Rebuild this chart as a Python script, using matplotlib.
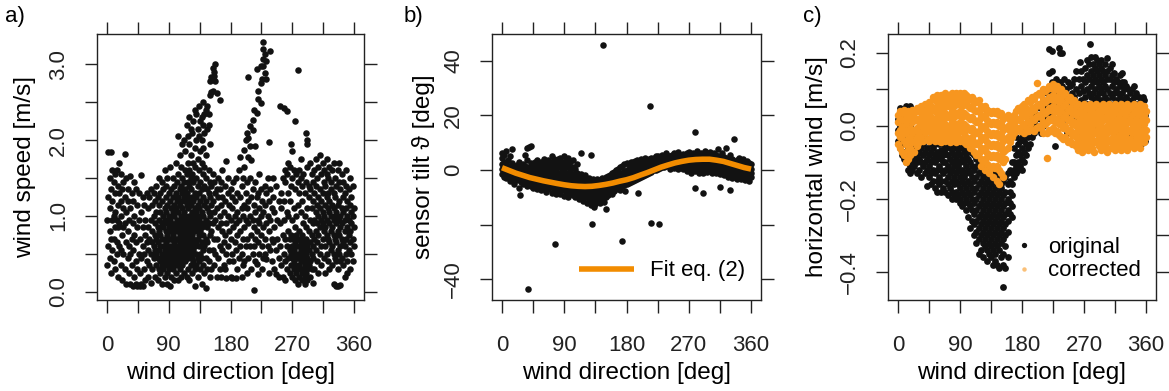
import matplotlib
matplotlib.use('Agg')
import matplotlib.pyplot as plt
from matplotlib.lines import Line2D
import numpy as np

plt.rcParams['font.family'] = ['Liberation Sans', 'DejaVu Sans']
plt.rcParams['font.size'] = 16

# ---- panel a: wind speed [m/s] per wind direction column (deg, [speeds])
speed_n = [
    (0, [0.35, 0.95]), (2, [0.6, 1.25, 1.84]), (4, [0.45, 0.8, 1.1, 1.5]),
    (6, [0.25, 0.7, 1.35, 1.84]), (8, [0.55, 0.95, 1.2, 1.6]), (10, [0.4, 0.7, 1.0, 1.45]),
    (12, [0.3, 0.85, 1.05, 1.3, 1.55]), (14, [0.5, 0.65, 0.95, 1.6]), (16, [0.2, 0.85, 1.15, 1.4]),
    (18, [0.6, 0.9, 1.3, 1.7]), (20, [0.35, 0.55, 1.0, 1.2, 1.55]), (22, [0.15, 0.75, 1.35]),
    (24, [0.5, 0.85, 1.1, 1.45]), (26, [0.3, 0.9, 1.25, 1.82]), (28, [0.1, 0.65, 1.05, 1.5]),
    (30, [0.45, 0.8, 1.2, 1.35]), (32, [0.25, 0.6, 0.95]), (34, [0.1, 0.5, 1.1, 1.53]),
    (36, [0.35, 0.7, 1.3]), (38, [0.08, 0.55, 0.9, 1.2]), (40, [0.2, 0.75, 1.0, 1.45]),
    (42, [0.1, 0.4, 0.65, 1.35]), (44, [0.07, 0.3, 0.85, 1.15]), (46, [0.5, 0.95, 1.3]),
    (48, [0.08, 0.25, 0.7]), (50, [0.1, 0.45, 1.05, 1.54]), (52, [0.07, 0.6, 0.85, 1.25]),
    (54, [0.3, 0.5, 1.15]), (56, [0.15, 0.75, 0.95]), (58, [0.4, 0.65, 1.3]),
    (60, [0.2, 0.55, 0.85, 1.1]), (62, [0.35, 0.7, 1.25]), (64, [0.12, 0.5, 0.95, 1.35]),
    (66, [0.3, 0.65, 0.8, 1.15]), (68, [0.45, 0.6, 1.0, 1.3]), (70, [0.2, 0.55, 0.75, 0.9, 1.2]),
    (72, [0.35, 0.5, 0.7, 1.05, 1.4]), (74, [0.15, 0.45, 0.65, 0.85, 1.25]),
    (76, [0.3, 0.55, 0.8, 0.95, 1.15, 1.5]), (78, [0.25, 0.4, 0.6, 0.75, 1.05, 1.3]),
    (80, [0.1, 0.35, 0.5, 0.7, 0.9, 1.2, 1.45]), (82, [0.3, 0.45, 0.6, 0.85, 1.0, 1.35]),
    (84, [0.2, 0.4, 0.55, 0.7, 0.95, 1.1, 1.6]), (86, [0.35, 0.5, 0.65, 0.8, 1.05, 1.25, 1.4]),
    (88, [0.1, 0.25, 0.45, 0.6, 0.75, 0.9, 1.15, 1.5]), (90, [0.3, 0.4, 0.55, 0.7, 0.85, 1.0, 1.3]),
    (92, [0.08, 0.35, 0.5, 0.6, 0.8, 0.95, 1.2, 1.65]), (94, [0.2, 0.45, 0.55, 0.7, 0.9, 1.1, 1.35]),
    (96, [0.3, 0.4, 0.6, 0.75, 0.85, 1.05, 1.25, 1.5]), (98, [0.15, 0.35, 0.5, 0.65, 0.8, 1.0, 1.15, 1.4]),
]
speed_s = [
    (100, [0.25, 0.45, 0.55, 0.7, 0.9, 1.1, 1.3, 1.7]), (102, [0.35, 0.5, 0.6, 0.8, 0.95, 1.2, 1.45]),
    (104, [0.15, 0.4, 0.55, 0.7, 0.85, 1.05, 1.25, 1.55, 2.05]),
    (106, [0.3, 0.45, 0.65, 0.75, 0.9, 1.15, 1.35, 1.8]),
    (108, [0.2, 0.4, 0.55, 0.7, 0.85, 1.0, 1.2, 1.4, 1.65]),
    (110, [0.35, 0.5, 0.6, 0.8, 0.95, 1.1, 1.3, 1.5, 1.95]),
    (112, [0.25, 0.45, 0.65, 0.75, 0.9, 1.05, 1.25, 1.45, 2.0]),
    (114, [0.4, 0.55, 0.7, 0.85, 1.0, 1.2, 1.35, 1.6, 1.85]),
    (116, [0.2, 0.5, 0.6, 0.8, 0.95, 1.15, 1.3, 1.55, 2.2]),
    (118, [0.3, 0.45, 0.65, 0.75, 0.9, 1.1, 1.25, 1.45, 1.7, 2.05]),
    (120, [0.15, 0.55, 0.7, 0.85, 1.0, 1.2, 1.4, 1.6, 1.95, 2.3]),
    (122, [0.35, 0.5, 0.6, 0.8, 0.95, 1.15, 1.35, 1.5, 1.8, 2.15]),
    (124, [0.25, 0.45, 0.65, 0.75, 0.9, 1.05, 1.25, 1.55, 2.1]),
    (126, [0.4, 0.55, 0.7, 0.85, 1.0, 1.2, 1.45, 1.7, 2.25]),
    (128, [0.08, 0.3, 0.6, 0.8, 0.95, 1.1, 1.3, 1.65, 1.9, 2.4]),
    (130, [0.35, 0.5, 0.65, 0.9, 1.05, 1.25, 1.5, 2.0, 2.35]),
    (132, [0.2, 0.45, 0.7, 0.85, 1.0, 1.15, 1.4, 1.75, 2.15]),
    (134, [0.4, 0.6, 0.75, 0.95, 1.1, 1.3, 1.6, 2.05, 2.45]),
    (136, [0.3, 0.5, 0.8, 0.9, 1.2, 1.45, 1.85, 2.25]),
    (138, [0.1, 0.45, 0.65, 0.85, 1.05, 1.35, 1.7, 2.0, 2.3]),
    (140, [0.35, 0.55, 0.75, 1.0, 1.25, 1.55, 1.9, 2.2, 2.5]),
    (142, [0.25, 0.6, 0.9, 1.15, 1.4, 1.65, 2.1, 2.35]),
    (144, [0.05, 0.45, 0.7, 0.95, 1.2, 1.5, 1.8, 2.4]),
    (146, [0.3, 0.65, 0.85, 1.1, 1.35, 2.15, 2.45]),
    (148, [0.4, 0.55, 0.9, 1.05, 1.3, 1.6, 2.2, 2.35]),
    (150, [0.2, 0.75, 1.0, 1.25, 1.45, 1.95, 2.6, 2.78]),
    (152, [0.3, 0.8, 1.15, 1.4, 2.63, 2.83]), (154, [0.55, 0.9, 1.2, 1.55, 2.65, 2.8, 2.95]),
    (156, [0.35, 0.7, 1.05, 1.45, 2.85, 2.9]), (158, [0.5, 0.95, 1.3, 2.78, 3.0]),
    (160, [0.2, 0.7, 1.1, 1.35, 2.62]), (162, [0.45, 0.85, 1.25, 1.5]),
    (164, [0.3, 0.6, 1.0, 1.35, 2.53]), (166, [0.2, 0.9, 1.15, 1.45]),
    (168, [0.55, 0.8, 1.25, 1.6]), (170, [0.35, 0.65, 1.05]), (172, [0.3, 0.75, 1.2, 1.4]),
    (174, [0.18, 0.5, 0.9, 1.72]), (176, [0.6, 1.0, 1.3, 1.5]), (178, [0.4, 0.8, 1.15]),
    (180, [0.2, 0.7, 0.95, 1.35]), (182, [0.18, 0.5, 1.1, 1.25]), (184, [0.4, 0.85, 1.45]),
    (186, [0.65, 1.0, 1.2]), (188, [0.18, 0.55, 0.9, 1.5]), (190, [0.3, 0.75, 1.05, 1.3]),
    (192, [0.45, 0.95, 1.6]), (194, [0.6, 0.8, 1.25, 1.78]), (196, [0.2, 0.5, 1.1, 1.4]),
    (198, [0.35, 0.7, 1.0, 1.5]),
]
speed_w = [
    (200, [0.4, 0.85, 1.15, 1.65, 1.87]), (202, [0.6, 0.95, 1.3, 2.0]),
    (204, [0.25, 0.7, 1.1, 1.45, 2.1]), (206, [0.45, 0.9, 1.2, 1.78, 2.03, 2.83]),
    (208, [0.6, 1.0, 1.5, 1.92, 2.18]), (210, [0.3, 0.75, 1.25, 1.74]),
    (212, [0.5, 0.95, 1.35, 2.14, 2.27]), (214, [0.02, 0.6, 0.85, 1.15, 2.4]),
    (216, [0.4, 0.7, 1.05, 1.45, 1.92]), (218, [0.36, 0.8, 1.25, 2.36, 2.94]),
    (220, [0.23, 0.65, 0.95, 1.3, 2.54, 2.65]), (222, [0.5, 0.9, 1.1, 1.55]),
    (224, [0.75, 1.0, 1.35, 2.49, 2.76, 2.98]), (226, [0.3, 0.6, 1.2, 2.8]),
    (228, [0.45, 0.85, 1.05, 2.98, 3.07, 3.2, 3.29]), (230, [0.5, 0.7, 1.15, 1.4, 2.89, 3.14]),
    (232, [0.43, 0.9, 1.3, 2.8, 3.05]), (234, [0.6, 1.0, 1.5]), (236, [0.25, 0.8, 1.2, 1.98]),
    (238, [0.55, 0.95, 1.35, 3.18]), (240, [0.4, 0.7, 1.1]), (242, [0.65, 1.25, 1.5]),
    (244, [0.3, 0.85, 1.05]), (246, [0.23, 0.55, 1.4]), (248, [0.7, 0.95]),
    (250, [0.19, 0.45, 1.2]), (252, [0.6, 0.9, 2.45]), (254, [0.35, 1.1, 1.3]),
    (256, [0.2, 0.75, 1.5]), (258, [0.5, 0.95, 1.2, 2.42]), (260, [0.15, 0.4, 0.7, 1.45, 1.6]),
    (262, [0.3, 0.6, 1.05, 1.55, 2.38]), (264, [0.45, 0.8, 1.0, 1.3, 1.7]),
    (266, [0.25, 0.55, 0.7, 1.2, 1.65]), (268, [0.35, 0.5, 0.75, 1.4, 1.95]),
    (270, [0.2, 0.45, 0.6, 0.95, 1.5, 1.85]), (272, [0.3, 0.4, 0.55, 0.7, 1.1, 1.6]),
    (274, [0.15, 0.35, 0.5, 0.65, 0.85, 1.35, 2.25]), (276, [0.25, 0.45, 0.6, 0.75, 1.0, 1.55]),
    (278, [0.1, 0.3, 0.5, 0.7, 1.15, 1.45, 2.92]), (280, [0.2, 0.35, 0.45, 0.6, 0.8, 1.3, 1.6]),
    (282, [0.3, 0.4, 0.55, 0.65, 1.05, 1.5, 1.75]), (284, [0.15, 0.25, 0.45, 0.6, 0.75, 1.2, 1.4]),
    (286, [0.3, 0.4, 0.5, 0.7, 0.9, 1.55]), (288, [0.1, 0.2, 0.35, 0.55, 0.65, 1.0, 1.3]),
    (290, [0.25, 0.4, 0.5, 0.7, 0.85, 1.45, 2.1]), (292, [0.15, 0.3, 0.45, 0.6, 1.1, 1.65, 1.95, 2.0]),
    (294, [0.35, 0.55, 0.8, 1.25, 1.4]), (296, [0.2, 0.4, 0.65, 0.95, 1.35, 1.7]),
    (298, [0.3, 0.5, 0.75, 1.1, 1.55]), (300, [0.12, 0.45, 0.6, 0.9, 1.2, 1.45]),
    (302, [0.3, 0.7, 0.95, 1.3, 1.6]), (304, [0.55, 0.8, 1.05, 1.4, 1.75]),
    (306, [0.4, 0.65, 0.9, 1.15, 1.5]), (308, [0.25, 0.75, 1.0, 1.25, 1.65]),
    (310, [0.5, 0.85, 1.1, 1.35, 1.8]), (312, [0.35, 0.6, 0.95, 1.2, 1.55]),
    (314, [0.7, 0.9, 1.05, 1.3, 1.7]), (316, [0.45, 0.8, 1.0, 1.45, 1.6]),
    (318, [0.25, 0.6, 0.85, 1.15, 1.4]), (320, [0.5, 0.75, 0.95, 1.25, 1.55, 1.75]),
    (322, [0.4, 0.7, 1.1, 1.3, 1.5]), (324, [0.3, 0.65, 0.9, 1.05, 1.2, 1.65]),
    (326, [0.55, 0.8, 1.0, 1.35, 1.45]), (328, [0.35, 0.6, 0.85, 1.15, 1.6]),
    (330, [0.1, 0.5, 0.75, 0.95, 1.1, 1.3, 1.7]), (332, [0.45, 0.7, 1.0, 1.25, 1.5]),
    (334, [0.08, 0.4, 0.65, 0.9, 1.05, 1.4]), (336, [0.08, 0.3, 0.55, 0.8, 1.15, 1.6]),
    (338, [0.5, 0.75, 0.95, 1.2, 1.45, 1.7]), (340, [0.09, 0.4, 0.6, 0.85, 1.0, 1.35]),
    (342, [0.45, 0.7, 0.9, 1.1, 1.55]), (344, [0.35, 0.65, 1.05, 1.25, 1.45]),
    (346, [0.2, 0.6, 0.8, 0.95, 1.3]), (348, [0.5, 0.7, 1.1, 1.4, 1.6]),
    (350, [0.25, 0.4, 0.85, 1.0, 1.2]), (352, [0.55, 0.75, 0.95, 1.35]),
    (354, [0.3, 0.65, 0.8, 1.15, 1.5]), (356, [0.5, 0.9, 1.05, 1.25]),
    (358, [0.4, 0.7, 1.0, 1.4]), (360, [0.6, 0.85, 1.1]),
]

# ---- panel b: sensor tilt [deg]
tilt_east = [
    (0, [-1.5, 0.5, 2.0, 4.5, 6.1]), (3, [-2.5, -0.5, 1.0, 3.0, 5.5]), (6, [-3.0, -1.2, 0.2, 2.2, 7.0]),
    (9, [-2.0, -0.8, 1.5, 3.5]), (12, [-4.0, -1.8, -0.3, 1.0, 5.0]), (15, [-3.2, -1.0, 0.5, 2.5, 7.7]),
    (18, [-5.0, -2.5, -1.2, 0.8]), (21, [-3.8, -2.0, -0.5, 1.8]), (24, [-6.5, -3.0, -1.5, 0.2, 3.0]),
    (26, [-9.2]), (27, [-4.5, -2.7, -1.0, 1.2]), (30, [-5.2, -3.5, -2.0, -0.3, 2.0]),
    (33, [-4.0, -2.4, -0.8, 1.5, 5.5]), (36, [-6.0, -3.8, -2.2, 0.0, 3.5, 7.9]),
    (38, [-43.7]), (39, [-5.0, -3.0, -1.2, 1.0, 8.5]), (42, [-5.8, -4.0, -2.5, -0.5, 2.5, 8.9]),
    (45, [-6.5, -4.5, -2.8, -1.0, 1.5]), (48, [-5.5, -3.8, -2.0, 0.0, 2.8]),
    (51, [-7.0, -4.8, -3.0, -1.5, 1.0, 3.5]), (54, [-6.0, -4.2, -2.5, -0.5, 2.0]),
    (57, [-7.5, -5.0, -3.5, -1.8, 0.5, 3.0]), (60, [-6.5, -4.5, -2.8, -1.0, 1.5, 4.0]),
    (63, [-8.0, -5.5, -3.8, -2.0, 0.0, 2.5]), (66, [-7.0, -5.0, -3.2, -1.5, 1.0, 3.5]),
    (69, [-6.2, -4.5, -2.5, -0.5, 2.0]), (72, [-8.5, -6.0, -4.0, -2.2, 0.5, 3.0, 5.0]),
    (75, [-7.2, -5.2, -3.5, -1.5, 1.5, 4.0]), (77, [-27.1]), (78, [-9.0, -6.5, -4.5, -2.5, 0.0, 2.5]),
    (81, [-7.8, -5.8, -3.8, -1.8, 1.0, 3.8]), (84, [-8.8, -6.8, -5.0, -3.0, -1.0, 2.0, 4.5]),
    (87, [-7.5, -5.5, -3.5, -1.5, 0.5, 3.0]), (90, [-9.5, -7.0, -5.0, -3.0, -0.5, 2.0, 4.9]),
    (93, [-8.0, -6.0, -4.0, -2.0, 1.0, 3.5]), (96, [-9.8, -7.2, -5.5, -3.5, -1.2, 1.8, 4.2]),
    (99, [-8.5, -6.5, -4.5, -2.5, 0.0, 2.8]), (102, [-9.2, -7.5, -5.8, -3.8, -1.5, 1.0, 3.5]),
    (105, [-10.0, -8.0, -6.0, -4.2, -2.0, 0.5]), (108, [-9.0, -7.2, -5.2, -3.0, -1.0, 2.0]),
    (111, [-10.5, -8.5, -6.5, -4.5, -2.5]), (114, [-9.5, -7.8, -5.8, -3.8, -1.5, 6.3]),
    (117, [-11.5, -9.0, -7.0, -5.0, -3.0]), (120, [-10.0, -8.2, -6.2, -4.2, -2.0]),
    (123, [-12.0, -9.5, -7.5, -5.5, -3.5]), (126, [-11.0, -8.8, -6.8, -4.8, -2.8]),
    (129, [-13.0, -10.2, -8.0, -6.0, -4.0, 5.4]), (130, [-19.8]),
    (132, [-11.5, -9.5, -7.2, -5.2, -3.2]), (133, [-13.7]),
    (135, [-12.5, -10.0, -8.0, -6.0, -4.2]), (138, [-11.0, -9.0, -7.0, -5.0, -3.5]),
    (141, [-12.2, -9.8, -7.5, -5.5, -3.8]), (144, [-10.5, -8.5, -6.5, -4.5, -2.8]),
    (146, [45.8]), (147, [-11.8, -9.2, -7.2, -5.2, -3.5]), (150, [-10.0, -8.0, -6.0, -4.0, -2.5]),
    (151, [-14.3]), (153, [-9.2, -7.5, -5.5, -3.8, -2.2]), (156, [-8.5, -6.8, -5.0, -3.2, -1.8]),
    (159, [-9.0, -6.5, -4.5, -3.0, -1.0]), (162, [-7.8, -6.0, -4.2, -2.5, -0.8]),
    (165, [-7.0, -5.5, -3.8, -2.2, 0.0]), (168, [-6.5, -5.0, -3.5, -1.8, 0.5]),
    (171, [-7.2, -4.5, -3.0, -1.5, 1.0]), (173, [-25.9]), (174, [-6.0, -4.2, -2.8, -1.0, 1.5]),
    (177, [-5.5, -3.8, -2.2, -0.5, 2.0]), (178, [-7.9]),
]
tilt_west = [
    (180, [-5.0, -3.5, -2.0, -0.2, 2.5]), (183, [-4.8, -3.0, -1.5, 0.2, 2.2]),
    (186, [-4.5, -2.8, -1.2, 0.5, 2.8]), (189, [-4.0, -2.2, -0.8, 1.0, 3.0]),
    (192, [-3.8, -2.0, -0.5, 1.2, 3.2]), (195, [-3.5, -1.5, 0.0, 1.5, 3.5]), (197, [-8.3]),
    (198, [-3.0, -1.2, 0.2, 1.8]), (201, [-2.5, -0.8, 0.8, 2.2, 4.0]), (204, [-2.2, -0.5, 1.0, 2.5]),
    (207, [-1.8, 0.0, 1.5, 3.0, 4.5]), (210, [-1.5, 0.3, 1.8, 3.2]), (213, [-1.0, 0.8, 2.2, 3.8]),
    (214, [23.4]), (215, [-19.3]), (216, [-0.8, 1.0, 2.5, 4.2]), (219, [-0.2, 1.5, 3.0, 4.5]),
    (222, [0.0, 1.8, 3.2, 5.0]), (225, [0.5, 2.0, 3.5, 5.2]), (227, [-19.8]), (228, [0.8, 2.5, 4.0]),
    (231, [1.0, 2.8, 4.2, 5.5]), (234, [1.2, 3.0, 4.5]), (237, [1.5, 3.2, 4.8, 6.0]),
    (240, [1.8, 3.5, 5.0]), (243, [0.5, 2.0, 3.8, 5.2]), (246, [1.0, 2.5, 4.0, 5.5]),
    (249, [0.8, 2.8, 4.2, 6.2]), (252, [1.2, 3.0, 4.5]), (255, [0.5, 1.8, 3.2, 4.8, 6.5]),
    (258, [1.0, 2.2, 3.5, 5.0]), (261, [0.2, 1.5, 3.0, 4.2, 5.8]), (264, [1.0, 2.5, 3.8, 5.2]),
    (267, [-0.5, 1.2, 2.8, 4.0, 6.0]), (270, [0.5, 2.0, 3.5, 4.8, 6.5]),
    (273, [-1.0, 1.0, 2.5, 4.0, 5.5]), (276, [0.0, 1.5, 3.0, 4.5, 6.0]),
    (279, [-6.7, -0.5, 1.2, 2.8, 4.2, 5.8, 13.7]), (282, [0.2, 2.0, 3.5, 5.0, 6.8]),
    (285, [-1.0, 1.0, 2.5, 4.0, 5.5]), (288, [-0.2, 1.5, 3.0, 4.5, 6.2]),
    (291, [-8.5, -1.2, 0.8, 2.5, 4.0, 5.5]), (294, [0.0, 1.8, 3.2, 4.8, 7.0]),
    (297, [-0.8, 1.2, 2.8, 4.2, 6.0]), (300, [0.2, 2.0, 3.5, 5.0, 6.5]),
    (303, [-1.0, 1.0, 2.5, 4.0, 5.8]), (306, [-0.5, 1.5, 3.0, 4.5, 6.2]),
    (309, [-1.2, 0.8, 2.2, 3.8, 5.5]), (312, [-0.2, 1.5, 3.0, 4.5, 7.5]),
    (315, [-6.3, -1.5, 0.5, 2.0, 3.5, 5.0]), (318, [-0.8, 1.0, 2.5, 4.0, 6.0]),
    (321, [-2.0, 0.0, 1.8, 3.2, 4.8]), (324, [-1.2, 0.8, 2.2, 3.8, 7.9]),
    (327, [-2.5, -0.5, 1.2, 2.8, 4.5]), (330, [-7.3, -1.8, 0.2, 1.8, 3.2, 5.5]),
    (333, [-2.8, -0.8, 1.0, 2.5, 4.0]), (336, [-2.0, 0.0, 1.5, 3.0, 11.2]),
    (339, [-3.2, -1.2, 0.5, 2.0, 3.5]), (342, [-2.5, -0.5, 1.0, 2.5, 4.5]),
    (345, [-3.5, -1.5, 0.0, 1.5, 3.0]), (348, [-3.0, -1.0, 0.5, 2.0, 3.8]),
    (351, [-3.8, -1.8, -0.2, 1.2, 2.8]), (354, [-3.2, -1.2, 0.2, 1.8, 3.2]),
    (357, [-4.0, -2.0, -0.5, 1.0, 2.5]), (360, [-2.5, -1.0, 0.5, 2.0]),
]
fit_dir = [0, 10, 20, 30, 40, 50, 60, 70, 80, 90, 100, 110, 120, 130, 140, 150, 160, 170, 180,
           190, 200, 210, 220, 230, 240, 250, 260, 270, 280, 290, 300, 310, 320, 330, 340, 350, 360]
fit_tilt = [0.8, -0.2, -1.2, -2.0, -2.8, -3.4, -4.0, -4.5, -5.0, -5.45, -5.8, -6.0, -6.1, -6.0,
            -5.7, -5.3, -4.8, -4.15, -3.6, -2.85, -1.9, -1.0, 0.0, 1.0, 1.8, 2.55, 3.1, 3.55,
            3.8, 3.9, 3.9, 3.55, 3.1, 2.35, 1.6, 0.85, 0.3]

# ---- panel c: horizontal wind [m/s], original
orig_east = [
    (0, [0.02, -0.01, -0.04]), (3, [0.05, 0.0, -0.03, -0.06]), (6, [0.03, -0.02, -0.05, -0.08]),
    (9, [0.01, -0.04, -0.07, -0.09]), (12, [0.056, -0.01, -0.05, -0.08, -0.1]),
    (15, [-0.015, -0.03, -0.06, -0.09, -0.12]), (18, [0.054, 0.0, -0.05, -0.08, -0.11, -0.13]),
    (21, [-0.02, -0.04, -0.07, -0.1, -0.12]), (24, [-0.03, -0.06, -0.09, -0.11]),
    (27, [-0.01, -0.05, -0.08, -0.1, -0.13]), (30, [-0.04, -0.07, -0.09, -0.12]),
    (33, [-0.02, -0.06, -0.1, -0.14]), (36, [-0.05, -0.08, -0.11]),
    (39, [0.052, -0.03, -0.07, -0.1, -0.13]), (42, [-0.06, -0.09, -0.12, -0.165]),
    (45, [-0.04, -0.08, -0.11, -0.14]), (48, [-0.05, -0.07, -0.1, -0.13, -0.16]),
    (51, [-0.04, -0.06, -0.09, -0.12, -0.15]), (54, [-0.05, -0.08, -0.1, -0.13, -0.17]),
    (57, [-0.04, -0.07, -0.09, -0.12, -0.15, -0.18]), (60, [-0.05, -0.08, -0.11, -0.14, -0.16]),
    (63, [-0.045, -0.065, -0.09, -0.12, -0.15, -0.18]), (66, [-0.05, -0.08, -0.1, -0.13, -0.17]),
    (69, [-0.06, -0.075, -0.1, -0.12, -0.15, -0.18]), (72, [-0.05, -0.08, -0.11, -0.14, -0.16, -0.19]),
    (75, [-0.06, -0.09, -0.12, -0.13, -0.17]), (78, [-0.055, -0.07, -0.1, -0.12, -0.15, -0.18, -0.2]),
    (81, [-0.05, -0.08, -0.11, -0.14, -0.16, -0.19]),
    (84, [-0.06, -0.09, -0.1, -0.13, -0.15, -0.18, -0.2]),
    (87, [-0.05, -0.075, -0.11, -0.12, -0.16, -0.19]),
    (90, [-0.06, -0.08, -0.1, -0.14, -0.17, -0.2, -0.21]),
    (93, [-0.055, -0.09, -0.12, -0.13, -0.15, -0.18, -0.22]),
    (96, [-0.06, -0.07, -0.1, -0.14, -0.16, -0.19, -0.21]),
    (99, [-0.065, -0.085, -0.11, -0.13, -0.17, -0.2, -0.23]),
    (102, [-0.07, -0.09, -0.12, -0.15, -0.18, -0.21, -0.25]),
    (105, [-0.06, -0.1, -0.13, -0.16, -0.19, -0.22, -0.28]),
    (108, [-0.075, -0.11, -0.14, -0.17, -0.2, -0.23, -0.26]),
    (111, [-0.08, -0.12, -0.15, -0.18, -0.21, -0.24, -0.27, -0.3]),
    (114, [-0.09, -0.11, -0.14, -0.17, -0.2, -0.23, -0.26, -0.29, -0.32]),
    (117, [-0.1, -0.13, -0.16, -0.19, -0.22, -0.25, -0.28, -0.31, -0.35]),
    (120, [-0.11, -0.12, -0.15, -0.18, -0.21, -0.24, -0.27, -0.3, -0.34]),
    (123, [-0.1, -0.14, -0.17, -0.2, -0.23, -0.26, -0.29, -0.32, -0.36]),
    (126, [-0.12, -0.13, -0.16, -0.19, -0.22, -0.25, -0.28, -0.31, -0.33]),
    (129, [0.043, -0.11, -0.15, -0.18, -0.21, -0.24, -0.27, -0.3, -0.34, -0.37]),
    (132, [-0.13, -0.14, -0.17, -0.2, -0.23, -0.26, -0.29, -0.32, -0.35]),
    (135, [-0.12, -0.16, -0.19, -0.22, -0.25, -0.28, -0.31, -0.33, -0.36]),
    (138, [-0.14, -0.15, -0.18, -0.21, -0.24, -0.27, -0.3, -0.34, -0.38]),
    (141, [-0.13, -0.17, -0.2, -0.23, -0.26, -0.29, -0.32, -0.35, -0.37]),
    (144, [-0.15, -0.16, -0.19, -0.22, -0.25, -0.28, -0.31, -0.33, -0.38]),
    (147, [-0.14, -0.18, -0.21, -0.24, -0.27, -0.3, -0.34, -0.39]),
    (150, [-0.16, -0.17, -0.2, -0.23, -0.26, -0.29, -0.32, -0.36]), (152, [-0.44]),
    (153, [-0.15, -0.19, -0.22, -0.25, -0.28, -0.31, -0.35, -0.38]),
    (156, [-0.14, -0.18, -0.21, -0.24, -0.27, -0.3, -0.33, -0.39]),
    (159, [-0.13, -0.16, -0.2, -0.23, -0.26, -0.29, -0.36]),
    (162, [-0.12, -0.15, -0.18, -0.21, -0.24]), (165, [-0.1, -0.13, -0.16, -0.19, -0.22, -0.25]),
    (168, [-0.06, -0.1, -0.12, -0.14]), (171, [-0.03, -0.08, -0.11, -0.13]),
    (174, [-0.05, -0.07, -0.1, -0.12]), (177, [-0.01, -0.04, -0.08, -0.11]),
]
orig_west = [
    (180, [-0.03, -0.06, -0.09, -0.12]), (183, [0.0, -0.04, -0.07, -0.1]),
    (186, [-0.02, -0.05, -0.08]), (189, [0.01, -0.03, -0.06]), (192, [0.02, -0.01, -0.05]),
    (195, [0.03, 0.0, -0.03]), (198, [0.04, 0.01, -0.02]), (201, [0.05, 0.02, -0.01]),
    (204, [0.06, 0.03, 0.0]), (207, [0.05, 0.02, -0.02]), (210, [0.07, 0.03, 0.0]),
    (213, [0.06, 0.04, 0.01]), (216, [0.09, 0.05, 0.02]), (219, [0.21, 0.146, 0.08, 0.03]),
    (222, [0.1, 0.06, 0.02]), (224, [0.205, 0.15, 0.12, 0.08]), (227, [0.11, 0.07, 0.04]),
    (228, [-0.056]), (230, [0.13, 0.09, 0.05]), (233, [0.214, 0.1, 0.06, 0.02]),
    (235, [0.2, 0.12, 0.08]), (238, [0.2, 0.11, 0.07, 0.03]), (241, [0.13, 0.09, 0.05]),
    (244, [0.1, 0.06, 0.02]), (245, [-0.02]), (247, [0.12, 0.08, 0.04]), (250, [0.11, 0.07, 0.03]),
    (253, [0.115, 0.09, 0.05]), (256, [0.13, 0.08, 0.04]), (259, [0.15, 0.1, 0.06, 0.02]),
    (262, [0.13, 0.09, 0.05, -0.03]), (264, [0.174]), (265, [0.15, 0.11, 0.07, 0.03]),
    (268, [0.097, 0.13, 0.06]), (271, [0.16, 0.12, 0.08, 0.04]), (274, [0.14, 0.1, 0.06, 0.18]),
    (277, [0.17, 0.13, 0.09, 0.05]), (279, [0.225]), (280, [0.15, 0.11, 0.08, 0.19]),
    (283, [0.17, 0.14, 0.12, 0.09, 0.06]), (286, [0.16, 0.13, 0.1, 0.07, 0.19, -0.01]),
    (289, [0.18, 0.15, 0.12, 0.08, 0.05]), (292, [0.17, 0.14, 0.11, 0.09, 0.06]),
    (295, [0.18, 0.16, 0.13, 0.1, 0.07]), (298, [0.15, 0.12, 0.09, 0.06, 0.03]),
    (300, [-0.04]), (301, [0.17, 0.14, 0.11, 0.08, 0.05]), (304, [0.187, 0.15, 0.13, 0.1, 0.07]),
    (307, [0.16, 0.13, 0.09, 0.06]), (310, [0.17, 0.14, 0.11, 0.08, 0.04]),
    (313, [0.145, 0.12, 0.09, 0.06]), (316, [0.13, 0.1, 0.07, 0.03]), (318, [-0.02]),
    (319, [0.12, 0.09, 0.06]), (322, [0.14, 0.11, 0.08, 0.05]), (325, [0.145, 0.12, 0.09, 0.06]),
    (328, [0.12, 0.1, 0.07, 0.03]), (331, [0.11, 0.08, 0.05]), (334, [0.1, 0.07, 0.04]),
    (337, [0.09, 0.06, 0.02]), (338, [-0.03]), (340, [0.1, 0.07, 0.04]), (343, [0.11, 0.08, 0.05]),
    (346, [0.09, 0.06, 0.02]), (349, [0.08, 0.05, 0.03]), (352, [0.07, 0.04, 0.0, -0.05]),
    (355, [0.08, 0.05, 0.02]), (357, [0.07, 0.015]), (359, [-0.04, 0.03]),
]
# ---- panel c: horizontal wind [m/s], corrected
corr_east = [
    (0, [0.03, 0.01, -0.02, -0.05]), (3, [0.04, 0.02, -0.01, -0.03, -0.06]),
    (6, [0.035, 0.0, -0.025, -0.07]), (9, [0.045, 0.015, -0.01, -0.04, -0.08]),
    (12, [0.03, 0.005, -0.02, -0.05, -0.1]), (15, [0.04, 0.02, -0.015, -0.035, -0.065, -0.09]),
    (18, [0.025, -0.005, -0.03, -0.06, -0.08]), (21, [0.045, 0.01, -0.02, -0.045]),
    (24, [0.035, 0.015, -0.01, -0.04, -0.07]), (27, [0.05, 0.02, -0.005, -0.03, -0.055]),
    (30, [0.04, 0.01, -0.02, -0.045]), (33, [0.055, 0.025, 0.0, -0.03]),
    (36, [0.045, 0.015, -0.01, -0.04]), (39, [0.06, 0.03, 0.005, -0.02]),
    (42, [0.05, 0.02, -0.01, -0.035]), (45, [0.065, 0.035, 0.01, -0.015, -0.04]),
    (48, [0.055, 0.025, 0.0, -0.03]), (51, [0.08, 0.045, 0.015, -0.01, -0.035]),
    (54, [0.07, 0.04, 0.01, -0.02, -0.04]), (57, [0.085, 0.055, 0.025, 0.0, -0.03]),
    (60, [0.075, 0.045, 0.015, -0.015, -0.04]), (63, [0.085, 0.06, 0.03, 0.0, -0.025, -0.045]),
    (66, [0.075, 0.05, 0.02, -0.01, -0.035]), (69, [0.09, 0.065, 0.035, 0.005, -0.02, -0.04]),
    (72, [0.08, 0.055, 0.025, -0.005, -0.03]), (75, [0.085, 0.06, 0.03, 0.0, -0.025, -0.045]),
    (78, [0.09, 0.07, 0.04, 0.01, -0.015, -0.04]), (81, [0.08, 0.055, 0.025, -0.005, -0.035]),
    (84, [0.09, 0.065, 0.035, 0.005, -0.02, -0.045]), (87, [0.085, 0.06, 0.03, 0.0, -0.03]),
    (90, [0.09, 0.07, 0.04, 0.01, -0.015, -0.04]), (93, [0.08, 0.055, 0.025, -0.005, -0.035]),
    (96, [0.09, 0.065, 0.035, 0.005, -0.02, -0.045]), (99, [0.085, 0.06, 0.03, 0.0, -0.03, -0.05]),
    (102, [0.08, 0.055, 0.025, -0.005, -0.035]), (105, [0.075, 0.05, 0.02, -0.01, -0.04, -0.06]),
    (108, [0.08, 0.055, 0.025, -0.005, -0.03, -0.055]),
    (111, [0.07, 0.045, 0.015, -0.015, -0.045, -0.07]),
    (114, [0.065, 0.04, 0.01, -0.02, -0.05, -0.08]),
    (117, [0.07, 0.045, 0.015, -0.015, -0.045, -0.075]),
    (120, [0.055, 0.03, 0.0, -0.03, -0.06, -0.09, -0.11]),
    (123, [0.05, 0.025, -0.005, -0.035, -0.065, -0.095]),
    (126, [0.055, 0.03, 0.0, -0.03, -0.06, -0.09, -0.12]),
    (129, [0.045, 0.015, -0.015, -0.045, -0.075, -0.105]),
    (132, [0.04, 0.01, -0.02, -0.05, -0.08, -0.11, -0.13]),
    (135, [0.035, 0.005, -0.025, -0.055, -0.085, -0.115]),
    (138, [0.04, 0.01, -0.02, -0.05, -0.08, -0.11, -0.14]),
    (141, [0.035, 0.005, -0.025, -0.055, -0.085, -0.115]),
    (144, [0.04, 0.01, -0.02, -0.05, -0.08, -0.11, -0.15]),
    (147, [0.03, 0.0, -0.03, -0.06, -0.09, -0.12, -0.16]),
    (150, [0.035, 0.005, -0.025, -0.055, -0.085, -0.13]),
    (153, [0.02, -0.01, -0.04, -0.07, -0.1, -0.14]), (156, [0.025, -0.005, -0.035, -0.065, -0.09]),
    (159, [0.03, 0.0, -0.03, -0.06]), (162, [0.015, -0.015, -0.045]), (165, [0.025, 0.0, -0.03]),
    (168, [0.03, 0.005, -0.02]), (171, [0.04, 0.015, -0.01]), (174, [0.05, 0.02, -0.005]),
    (177, [0.045, 0.015, -0.015]),
]
corr_west = [
    (180, [0.055, 0.03, 0.0]), (183, [0.06, 0.035, 0.005, -0.02]), (186, [0.05, 0.025, -0.005]),
    (189, [0.07, 0.04, 0.01, -0.015]), (192, [0.065, 0.035, 0.005]), (195, [0.08, 0.05, 0.02, -0.01]),
    (198, [0.075, 0.045, 0.015, -0.015]), (201, [0.085, 0.055, 0.025, -0.005]), (202, [0.118]),
    (204, [0.09, 0.06, 0.03, 0.0]), (207, [0.085, 0.055, 0.025, -0.005]),
    (210, [0.1, 0.07, 0.04, 0.01, -0.02]), (213, [0.095, 0.065, 0.035, 0.005]),
    (216, [0.1, 0.07, 0.04, 0.01, -0.02, -0.087]), (219, [0.11, 0.08, 0.05, 0.02, -0.01]),
    (222, [0.105, 0.075, 0.045, 0.015, -0.015]), (225, [0.115, 0.085, 0.055, 0.025, -0.005]),
    (228, [0.1, 0.07, 0.04, 0.01, -0.02]), (231, [0.11, 0.08, 0.05, 0.02, -0.015]),
    (234, [0.095, 0.065, 0.035, 0.005, -0.025]), (237, [0.1, 0.07, 0.04, 0.01, -0.03]),
    (240, [0.085, 0.055, 0.025, -0.005, -0.035]), (243, [0.09, 0.06, 0.03, 0.0, -0.03]),
    (246, [0.075, 0.045, 0.015, -0.015, -0.045]), (249, [0.08, 0.05, 0.02, -0.01, -0.04]),
    (252, [0.065, 0.035, 0.005, -0.025, -0.05]), (255, [0.07, 0.04, 0.01, -0.02, -0.05]),
    (258, [0.055, 0.03, 0.0, -0.03, -0.055]), (261, [0.06, 0.035, 0.01, -0.015, -0.04, -0.065]),
    (264, [0.045, 0.02, -0.005, -0.03, -0.055]), (267, [0.055, 0.03, 0.0, -0.025, -0.05, -0.07]),
    (270, [0.06, 0.035, 0.01, -0.02, -0.045]), (273, [0.05, 0.02, -0.005, -0.035, -0.06]),
    (276, [0.055, 0.03, 0.0, -0.025, -0.05, -0.065]), (279, [0.06, 0.04, 0.01, -0.015, -0.04]),
    (282, [0.05, 0.02, -0.01, -0.035, -0.06]), (285, [0.055, 0.03, 0.005, -0.02, -0.045, -0.07]),
    (288, [0.06, 0.035, 0.01, -0.015, -0.04]), (291, [0.045, 0.02, -0.005, -0.03, -0.055]),
    (294, [0.055, 0.03, 0.0, -0.025, -0.05, -0.065]), (297, [0.06, 0.04, 0.015, -0.01, -0.04]),
    (300, [0.05, 0.025, -0.005, -0.03, -0.055]), (303, [0.055, 0.03, 0.0, -0.02, -0.045, -0.07]),
    (306, [0.06, 0.035, 0.01, -0.015, -0.04]), (309, [0.045, 0.02, -0.01, -0.035, -0.06]),
    (312, [0.055, 0.03, 0.005, -0.02, -0.045]), (315, [0.06, 0.035, 0.01, -0.015, -0.045, -0.065]),
    (318, [0.05, 0.02, -0.005, -0.03, -0.055]), (321, [0.055, 0.03, 0.0, -0.025, -0.05]),
    (324, [0.06, 0.035, 0.01, -0.02, -0.045, -0.065]), (327, [0.045, 0.02, -0.005, -0.035, -0.06]),
    (330, [0.055, 0.03, 0.0, -0.025, -0.05]), (333, [0.06, 0.04, 0.01, -0.015, -0.04, -0.065]),
    (336, [0.05, 0.02, -0.01, -0.035, -0.055]), (339, [0.055, 0.03, 0.005, -0.02, -0.045]),
    (342, [0.06, 0.035, 0.01, -0.015, -0.04, -0.06]), (345, [0.045, 0.02, -0.005, -0.03, -0.055]),
    (348, [0.055, 0.03, 0.0, -0.025, -0.05]), (351, [0.06, 0.035, 0.01, -0.02, -0.045, -0.06]),
    (354, [0.05, 0.02, -0.01, -0.035]), (357, [0.055, 0.03, 0.005, -0.02, -0.045]),
    (360, [0.04, 0.015, -0.01, -0.03]),
]

DIR_TICKS = [0, 45, 90, 135, 180, 225, 270, 315, 360]
DIR_LABELS = ['0', '', '90', '', '180', '', '270', '', '360']
BLACK = '#121212'
ORANGE = '#F7961F'
FIT_ORANGE = '#F28C00'
MS = 4.7


def expand(*col_lists):
    x, y = [], []
    for cols in col_lists:
        for d, vals in cols:
            for v in vals:
                x.append(d)
                y.append(v)
    return np.array(x, float), np.array(y, float)


def style(ax, yticks, ylabels, ylim, ylabel, ylab_x):
    ax.set_xlim(-14.4, 374.4)
    ax.set_ylim(*ylim)
    ax.set_xticks(DIR_TICKS)
    ax.set_xticklabels(DIR_LABELS)
    ax.set_yticks(yticks)
    ax.set_yticklabels(ylabels)
    ax.tick_params(direction='out', length=9, width=1.0, top=True, right=True,
                   labeltop=False, labelright=False, colors='#222222')
    ax.tick_params(axis='x', pad=16)
    ax.tick_params(axis='y', pad=11)
    for lab in ax.get_yticklabels():
        lab.set_rotation(90)
        lab.set_va('center')
    for sp in ax.spines.values():
        sp.set_linewidth(1.0)
        sp.set_color('#222222')
    ax.set_xlabel('wind direction [deg]', va='center', fontsize=17.5)
    ax.xaxis.set_label_coords(0.5, -0.275)
    ax.set_ylabel(ylabel, va='center', fontsize=17.5)
    ax.yaxis.set_label_coords(ylab_x, 0.5)


fig = plt.figure(figsize=(11.69, 3.91), dpi=100)
ax_a = fig.add_axes([0.0830, 0.2327, 0.2284, 0.6803])
ax_b = fig.add_axes([0.4209, 0.2327, 0.2301, 0.6803])
ax_c = fig.add_axes([0.7596, 0.2327, 0.2293, 0.6803])

# a) wind speed
xa, ya = expand(speed_n, speed_s, speed_w)
ax_a.plot(xa, ya, 'o', ms=MS, color=BLACK, mec='none')
style(ax_a, [0, 0.5, 1.0, 1.5, 2.0, 2.5, 3.0], ['0.0', '', '1.0', '', '2.0', '', '3.0'],
      (-0.11, 3.40), 'wind speed [m/s]', -0.27)

# b) sensor tilt with fit
xb, yb = expand(tilt_east, tilt_west)
ax_b.plot(xb, yb, 'o', ms=MS, color=BLACK, mec='none')
fit_line, = ax_b.plot(fit_dir, fit_tilt, '-', color=FIT_ORANGE, lw=4.0, solid_capstyle='butt')
style(ax_b, [-40, -20, 0, 20, 40], ['\u221240', '', '0', '20', '40'],
      (-47.6, 49.7), 'sensor tilt \u03d1 [deg]', -0.253)
ax_b.legend([fit_line], ['Fit eq. (2)'], loc='lower right', frameon=False,
            handlelength=2.5, handletextpad=0.7, bbox_to_anchor=(0.99, 0.02),
            borderaxespad=0.2)

# c) horizontal wind, original vs corrected
xo, yo = expand(orig_east, orig_west)
xc, yc = expand(corr_east, corr_west)
ax_c.plot(xo, yo, 'o', ms=MS + 0.2, color=BLACK, mec='none')
ax_c.plot(xc, yc, 'o', ms=MS + 0.7, color=ORANGE, mec='none')
style(ax_c, [-0.4, -0.3, -0.2, -0.1, 0.0, 0.1, 0.2],
      ['\u22120.4', '', '\u22120.2', '', '0.0', '', '0.2'],
      (-0.477, 0.252), 'horizontal wind [m/s]', -0.265)
h_orig = Line2D([], [], ls='none', marker='o', ms=MS - 0.9, color=BLACK, mec='none')
h_corr = Line2D([], [], ls='none', marker='o', ms=MS - 1.5, color=ORANGE, mec='none', alpha=0.6)
ax_c.legend([h_orig, h_corr], ['original', 'corrected'], loc='lower right', frameon=False,
            handlelength=0.8, handletextpad=0.7, labelspacing=0.1,
            bbox_to_anchor=(0.995, 0.02), borderaxespad=0.2)

fig.text(0.004, 0.985, 'a)', va='top', ha='left')
fig.text(0.345, 0.985, 'b)', va='top', ha='left')
fig.text(0.687, 0.985, 'c)', va='top', ha='left')

fig.savefig('out.png', dpi=100)
